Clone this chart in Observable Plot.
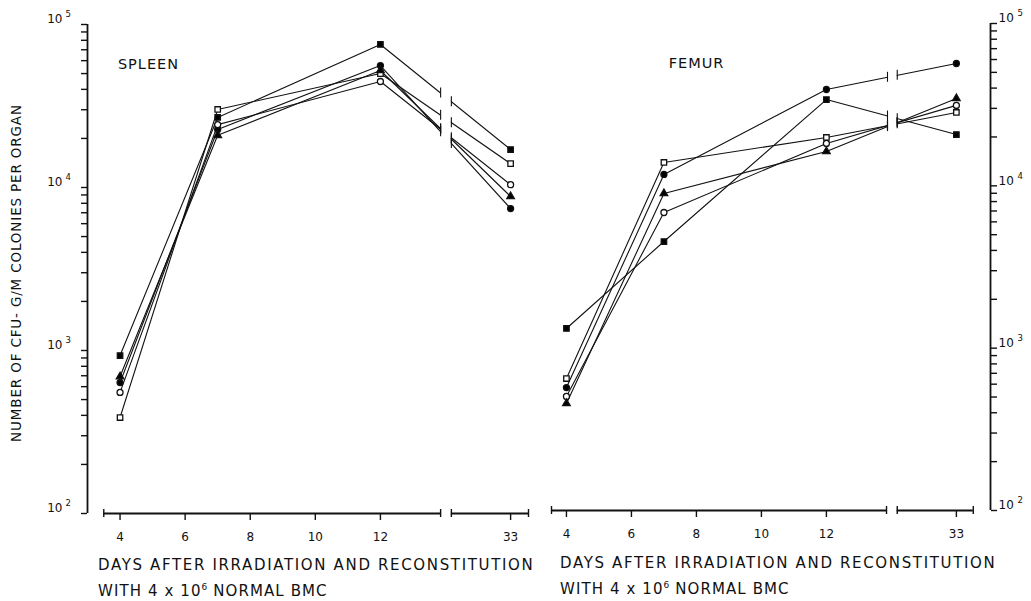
<!DOCTYPE html>
<html>
<head>
<meta charset="utf-8">
<script src="https://cdn.jsdelivr.net/npm/d3@7"></script>
<script src="https://cdn.jsdelivr.net/npm/@observablehq/plot@0.6"></script>
<style>
  html, body { margin: 0; padding: 0; background: #fff; }
  #chart { position: relative; width: 1031px; height: 601px; font-family: "DejaVu Sans", sans-serif; color: #111; }
  #chart svg { position: absolute; top: 0; }
  .caption { position: absolute; font-size: 15px; letter-spacing: 1.65px; white-space: nowrap; line-height: 18px; }
  .caption.second { letter-spacing: 1.1px; }
  .caption sup { font-size: 9px; letter-spacing: 0; vertical-align: 6px; line-height: 0; }
</style>
</head>
<body>
<div id="chart"></div>
<script>
// Sampling days and x-axis tick labels
const days = [4, 7, 12, 33];
const dayTicks = [4, 6, 8, 10, 12, 33];

// Decades on the log axis and their exponents
const powerTicks = [1e2, 1e3, 1e4, 1e5];
const exponents = ["2", "3", "4", "5"];

// CFU-G/M colonies per spleen, one array per group (days 4, 7, 12, 33)
const spleenFilledCircle   = [636, 22700, 56000, 7430];
const spleenOpenCircle     = [553, 24300, 44700, 10400];
const spleenFilledSquare   = [931, 26900, 75400, 17100];
const spleenOpenSquare     = [388, 30100, 50000, 14000];
const spleenFilledTriangle = [692, 20900, 52200, 8810];

// CFU-G/M colonies per femur, one array per group (days 4, 7, 12, 33)
const femurFilledCircle   = [572, 11750, 39200, 56700];
const femurOpenCircle     = [504, 6850, 18240, 31300];
const femurFilledSquare   = [1322, 4540, 34000, 20700];
const femurOpenSquare     = [650, 13930, 19860, 28300];
const femurFilledTriangle = [456, 8970, 16280, 34500];

// The day axis is broken after day 12: later days are drawn 17 days closer
const axisPosition = d => (d > 13 ? d - 17 : d);
const tickLabel = new Map(dayTicks.map(d => [axisPosition(d), String(d)]));

// Minor ticks 1..9 x 10^k on the log axis
const logTicks = [];
for (let e = 2; e < 5; ++e) for (let m = 1; m < 10; ++m) logTicks.push(m * 10 ** e);
logTicks.push(1e5);

const groupStyles = [
  {symbol: "circle", fill: "black", r: 4.2},
  {symbol: "circle", fill: "white", r: 4.2},
  {symbol: "square", fill: "black", r: 4.4},
  {symbol: "square", fill: "white", r: 4.4},
  {symbol: "triangle", fill: "black", r: 3.7}
];

function panel(cfg) {
  const series = cfg.values.map((values, i) => ({key: i, values, ...groupStyles[i]}));
  const rows = series.flatMap(s => days.map((day, j) => ({key: s.key, symbol: s.symbol, fill: s.fill, r: s.r, day, value: s.values[j]})));

  // where each straight day-12 → day-33 segment crosses the edges of the break
  const p12 = axisPosition(12), p33 = axisPosition(33);
  const crossing = (s, p) => Math.exp(Math.log(s.values[2]) + (p - p12) / (p33 - p12) * (Math.log(s.values[3]) - Math.log(s.values[2])));
  const breakTicks = series.flatMap(s => cfg.gap.map(p => ({x: p, y: crossing(s, p)})));
  const k = 10 ** (5 / 163);
  const kc = 10 ** (4 / 163);

  const left = cfg.anchor === "left";
  const svg = Plot.plot({
    width: cfg.width,
    height: 556,
    marginLeft: cfg.marginLeft,
    marginRight: cfg.marginRight,
    marginTop: cfg.marginTop,
    marginBottom: cfg.marginBottom,
    style: {fontFamily: "DejaVu Sans, sans-serif", fontSize: "11.5px", color: "#111", background: "transparent", overflow: "visible"},
    x: {domain: cfg.xDomain, axis: null},
    y: {type: "log", domain: [100, 1e5], axis: null},
    marks: [
      Plot.line(rows, {x: d => axisPosition(d.day), y: "value", z: "key", stroke: "#111", strokeWidth: 1.1}),
      Plot.rect([0], {x1: () => cfg.gap[0], x2: () => cfg.gap[1], y1: () => 100, y2: () => 1e5, fill: "white"}),
      Plot.ruleX(breakTicks, {x: "x", y1: d => d.y / k, y2: d => d.y * k, stroke: "#111", strokeWidth: 1.1}),
      Plot.dot(rows, {x: d => axisPosition(d.day), y: "value", symbol: "symbol", fill: "fill", r: "r", stroke: "#111", strokeWidth: 1.3}),

      // broken day axis
      Plot.ruleY(cfg.segments, {y: () => 100, x1: d => d[0], x2: d => d[1], stroke: "#111", strokeWidth: 1.8}),
      Plot.ruleX(cfg.segments.flat(), {x: d => d, y1: () => 100 / kc, y2: () => 100 * kc, stroke: "#111", strokeWidth: 1.4}),
      Plot.axisX({ticks: dayTicks.map(axisPosition), tickFormat: p => tickLabel.get(p), tickSize: 7, tickPadding: 12, strokeWidth: 1.4, fontSize: 12, label: null}),

      // log count axis
      Plot.ruleX([cfg.yAxisAt], {y1: () => 100, y2: () => 1e5, stroke: "#111", strokeWidth: 1.8}),
      Plot.axisY({anchor: cfg.anchor, ticks: logTicks, tickSize: 6, tickFormat: () => "", strokeWidth: 1.4, label: null}),
      Plot.text(powerTicks, {x: () => cfg.yAxisAt, y: d => d, text: () => "10", textAnchor: left ? "end" : "start", dx: left ? -25 : 8, dy: -5, fontSize: 12}),
      Plot.text(powerTicks, {x: () => cfg.yAxisAt, y: d => d, text: (d, i) => exponents[i], textAnchor: "start", dx: left ? -22 : 27, dy: -10, fontSize: 8.5}),

      // organ name
      Plot.text([cfg.title], {frameAnchor: "top-left", dx: cfg.titleDx, dy: 34, fontSize: 14.5, textAnchor: "middle"}),
      ...(cfg.yLabel ? [Plot.text([cfg.yLabel], {frameAnchor: "left", textAnchor: "middle", rotate: -90, dx: -71, dy: 4, fontSize: 13.5})] : [])
    ]
  });
  svg.style.left = cfg.left + "px";
  svg.querySelectorAll("text").forEach(t => {
    const s = t.textContent;
    if (s === cfg.title) t.style.letterSpacing = "1px";
    if (cfg.yLabel && s === cfg.yLabel) t.style.letterSpacing = "0.85px";
  });
  return svg;
}

const chart = document.getElementById("chart");

chart.append(panel({
  left: 0, width: 540, anchor: "left",
  marginLeft: 87, marginRight: 12, marginTop: 24, marginBottom: 43,
  xDomain: [3, 16.55], yAxisAt: 3,
  gap: [13.85, 14.18], segments: [[3.5, 13.85], [14.18, 16.55]],
  title: "SPLEEN", titleDx: 61,
  yLabel: "NUMBER OF CFU- G/M COLONIES PER ORGAN",
  values: [spleenFilledCircle, spleenOpenCircle, spleenFilledSquare, spleenOpenSquare, spleenFilledTriangle]
}));

chart.append(panel({
  left: 540, width: 491, anchor: "right",
  marginLeft: 11, marginRight: 41, marginTop: 23, marginBottom: 46,
  xDomain: [3.54, 17.05], yAxisAt: 17.05,
  gap: [13.88, 14.18], segments: [[3.54, 13.85], [14.18, 16.52]],
  title: "FEMUR", titleDx: 145,
  values: [femurFilledCircle, femurOpenCircle, femurFilledSquare, femurOpenSquare, femurFilledTriangle]
}));

// Day-axis captions under each panel
function caption(x, y, html, cls) {
  const div = document.createElement("div");
  div.className = "caption" + (cls ? " " + cls : "");
  div.style.left = x + "px";
  div.style.top = y + "px";
  div.innerHTML = html;
  chart.append(div);
}
caption(98, 556, "DAYS AFTER IRRADIATION AND RECONSTITUTION");
caption(98, 582, "WITH 4 x 10<sup>6</sup> NORMAL BMC", "second");
caption(560, 554, "DAYS AFTER IRRADIATION AND RECONSTITUTION");
caption(560, 580, "WITH 4 x 10<sup>6</sup> NORMAL BMC", "second");
</script>
</body>
</html>
